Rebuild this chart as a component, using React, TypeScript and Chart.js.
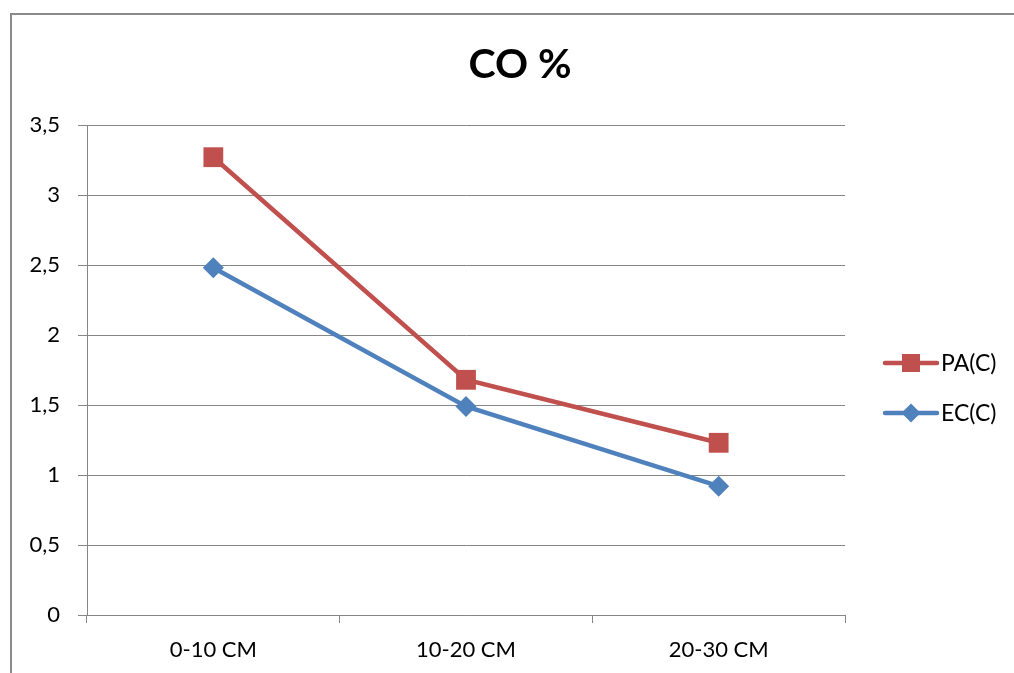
import React, { useEffect, useRef } from "react";
import { Chart, registerables } from "chart.js";

Chart.register(...registerables);

// Soil depth classes and CO % per treatment
const categories = ["0-10 CM", "10-20 CM", "20-30 CM"];
const paValues = [3.27, 1.68, 1.23];
const ecValues = [2.48, 1.49, 0.92];
const seriesNames = ["PA(C)", "EC(C)"];
const yMin = 0;
const yMax = 3.5;
const yStep = 0.5;

const RED = "#C0504D";
const BLUE = "#4F81BD";
const GRID = "#868686";
const FONT = "Lato, 'Open Sans', sans-serif";

// Outer frame, title and a hand-drawn legend on the right
const decorPlugin = {
  id: "decor",
  afterDraw(chart: any) {
    const ctx = chart.ctx as CanvasRenderingContext2D;
    const { width, height } = chart;
    ctx.save();

    // frame
    ctx.strokeStyle = "#8a8a8a";
    ctx.lineWidth = 2;
    ctx.beginPath();
    ctx.moveTo(11, height);
    ctx.lineTo(11, 14);
    ctx.lineTo(width, 14);
    ctx.stroke();

    // title
    ctx.fillStyle = "#000";
    ctx.font = `bold 41px ${FONT}`;
    ctx.textAlign = "center";
    ctx.textBaseline = "middle";
    ctx.fillText("CO %", 520, 65);

    // legend
    const items = [
      { name: seriesNames[0], color: RED, style: "rect", y: 363 },
      { name: seriesNames[1], color: BLUE, style: "diamond", y: 413 },
    ];
    items.forEach((it) => {
      ctx.strokeStyle = it.color;
      ctx.fillStyle = it.color;
      ctx.lineWidth = 4.5;
      ctx.lineCap = "round";
      ctx.beginPath();
      ctx.moveTo(885, it.y);
      ctx.lineTo(937, it.y);
      ctx.stroke();
      if (it.style === "rect") {
        ctx.fillRect(911 - 9, it.y - 9, 18, 18);
      } else {
        ctx.beginPath();
        ctx.moveTo(911, it.y - 9.5);
        ctx.lineTo(920.5, it.y);
        ctx.lineTo(911, it.y + 9.5);
        ctx.lineTo(901.5, it.y);
        ctx.closePath();
        ctx.fill();
      }
      ctx.fillStyle = "#000";
      ctx.font = `23px ${FONT}`;
      ctx.textAlign = "left";
      ctx.textBaseline = "middle";
      ctx.fillText(it.name, 941, it.y + 1);
    });

    ctx.restore();
  },
};

export default function App() {
  const canvasRef = useRef<HTMLCanvasElement | null>(null);

  useEffect(() => {
    const canvas = canvasRef.current;
    if (!canvas) return;
    const chart = new Chart(canvas, {
      type: "line",
      data: {
        labels: categories,
        datasets: [
          {
            label: seriesNames[0],
            data: paValues,
            borderColor: RED,
            backgroundColor: RED,
            borderWidth: 4.5,
            pointStyle: "rect",
            pointRadius: 14,
            pointBorderWidth: 0,
            pointBackgroundColor: RED,
            tension: 0,
          },
          {
            label: seriesNames[1],
            data: ecValues,
            borderColor: BLUE,
            backgroundColor: BLUE,
            borderWidth: 4.5,
            pointStyle: "rectRot",
            pointRadius: 10.5,
            pointBorderWidth: 0,
            pointBackgroundColor: BLUE,
            tension: 0,
          },
        ],
      },
      options: {
        responsive: false,
        animation: false,
        devicePixelRatio: 1,
        layout: { padding: { top: 125, right: 169, left: 0, bottom: 0 } },
        plugins: {
          legend: { display: false },
          title: { display: false },
          tooltip: { enabled: false },
        },
        scales: {
          x: {
            type: "category",
            offset: true,
            afterFit(scale: any) {
              scale.height = 58;
            },
            grid: {
              offset: true,
              drawOnChartArea: false,
              drawTicks: true,
              tickLength: 8,
              color: GRID,
            },
            border: { display: true, color: GRID, width: 1 },
            ticks: {
              color: "#000",
              font: { family: FONT, size: 22 },
              padding: 14,
              maxRotation: 0,
            },
          },
          y: {
            min: yMin,
            max: yMax,
            afterFit(scale: any) {
              scale.width = 87;
            },
            grid: { color: GRID, tickLength: 9, lineWidth: 1 },
            border: { display: true, color: GRID, width: 1 },
            ticks: {
              stepSize: yStep,
              color: "#000",
              font: { family: FONT, size: 22 },
              padding: 18,
              callback: (v: any) => String(v).replace(".", ","),
            },
          },
        },
      },
      plugins: [decorPlugin],
    });
    return () => chart.destroy();
  }, []);

  return (
    <div style={{ position: "absolute", left: 0, top: 0, width: 1014, height: 673, background: "#fff" }}>
      <canvas ref={canvasRef} width={1014} height={673} style={{ display: "block" }} />
    </div>
  );
}
